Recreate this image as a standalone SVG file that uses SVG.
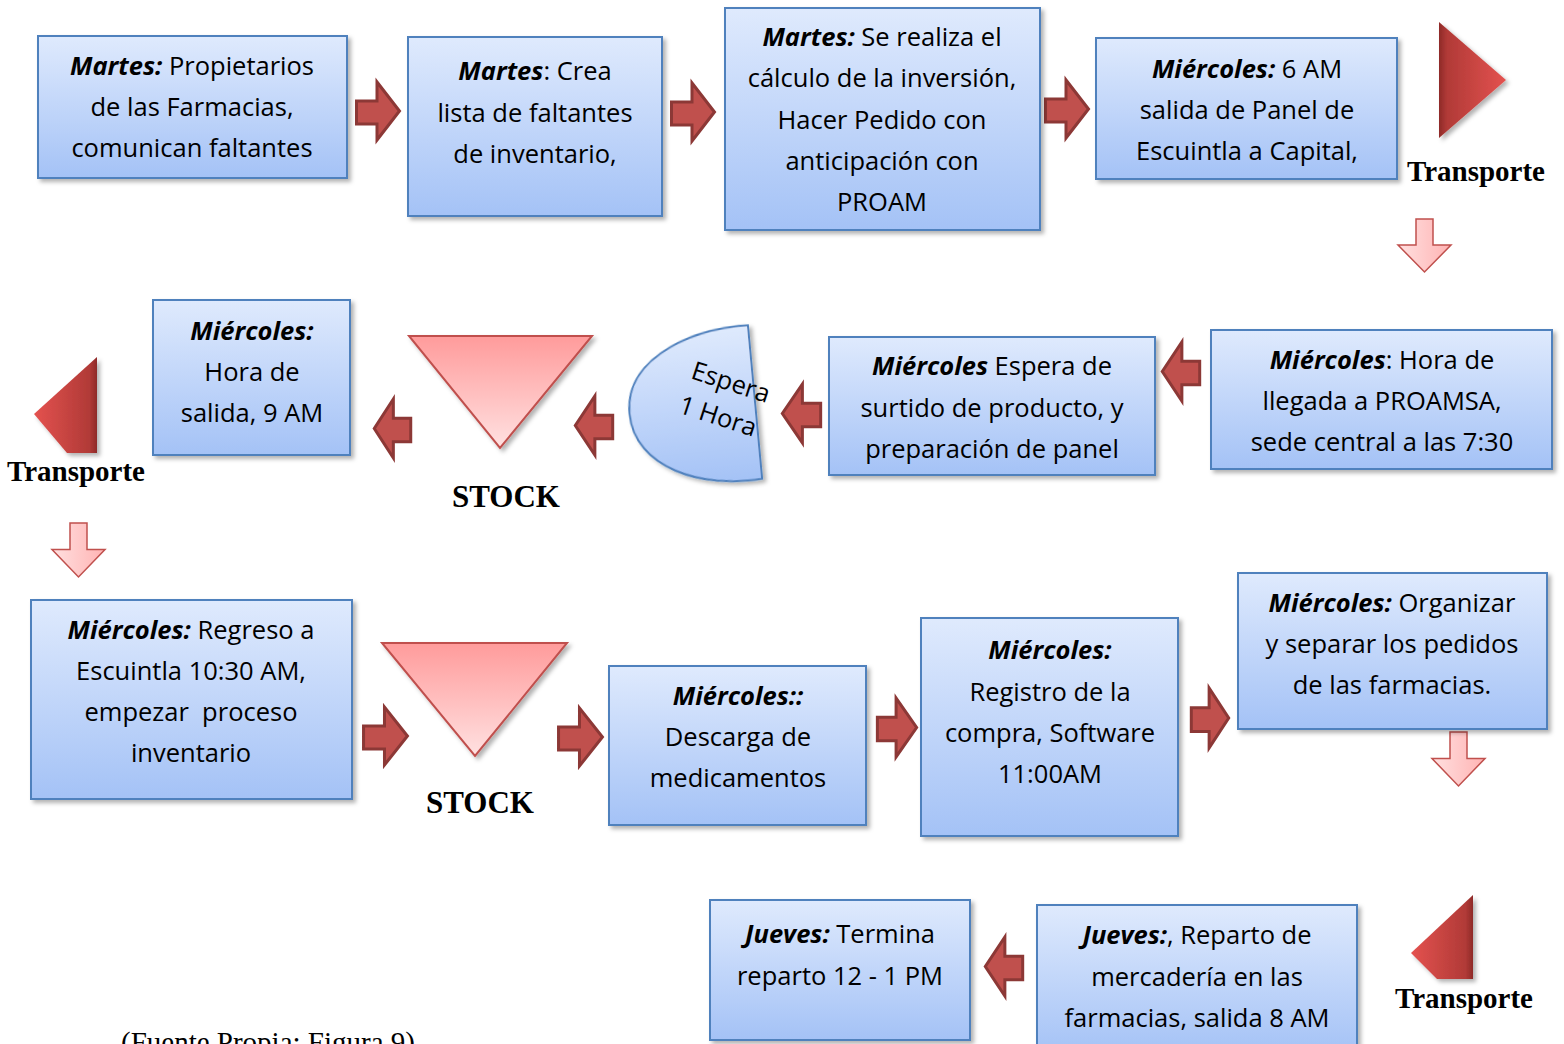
<svg xmlns="http://www.w3.org/2000/svg" xmlns:xlink="http://www.w3.org/1999/xlink" width="1564" height="1044" viewBox="0 0 1564 1044">
  <defs>
    <linearGradient id="boxFill" x1="0" y1="0" x2="0" y2="1">
      <stop offset="0" stop-color="#dfeafd"/>
      <stop offset="1" stop-color="#a4c2f6"/>
    </linearGradient>
    <linearGradient id="stockFill" x1="0" y1="0" x2="0" y2="1">
      <stop offset="0" stop-color="#ff9b9b"/>
      <stop offset="1" stop-color="#ffe1e1"/>
    </linearGradient>
    <linearGradient id="downFill" x1="0" y1="0" x2="1" y2="0">
      <stop offset="0" stop-color="#ffe0e0"/>
      <stop offset="1" stop-color="#ffb3b3"/>
    </linearGradient>
    <linearGradient id="transRight" x1="0" y1="0" x2="1" y2="0">
      <stop offset="0" stop-color="#8e2a28"/>
      <stop offset="0.12" stop-color="#b13a37"/>
      <stop offset="1" stop-color="#e4524f"/>
    </linearGradient>
    <linearGradient id="transLeft" x1="1" y1="0" x2="0" y2="0">
      <stop offset="0" stop-color="#8e2a28"/>
      <stop offset="0.12" stop-color="#b13a37"/>
      <stop offset="1" stop-color="#e4524f"/>
    </linearGradient>
    <filter id="shadow" x="-10%" y="-10%" width="125%" height="125%">
      <feDropShadow dx="3" dy="3" stdDeviation="2" flood-color="#000" flood-opacity="0.3"/>
    </filter>
    <!-- block arrow pointing right -->
    <symbol id="arrowR" viewBox="0 0 46 62" preserveAspectRatio="none" overflow="visible">
      <path d="M1.5,21 H22 V2 L44.5,31 L22,60 V44 H1.5 Z" fill="#c0504d" stroke="#8c3836" stroke-width="3" stroke-linejoin="miter" vector-effect="non-scaling-stroke"/>
    </symbol>
    <!-- block arrow pointing left -->
    <symbol id="arrowL" viewBox="0 0 46 62" preserveAspectRatio="none" overflow="visible">
      <path d="M44.5,21 H24 V2 L1.5,31 L24,60 V44 H44.5 Z" fill="#c0504d" stroke="#8c3836" stroke-width="3" stroke-linejoin="miter" vector-effect="non-scaling-stroke"/>
    </symbol>
    <!-- light down arrow -->
    <symbol id="arrowD" viewBox="0 0 55 55" preserveAspectRatio="none" overflow="visible">
      <path d="M19,1 H36 V27 H54 L27.5,54 L1,27 H19 Z" fill="url(#downFill)" stroke="#c0504d" stroke-width="1.5"/>
    </symbol>
    <style>
      .box { fill: url(#boxFill); stroke: #4f81bd; stroke-width: 2; filter: url(#shadow); }
      .txt { font-family: "Open Sans", "Noto Sans", sans-serif; font-size: 25.5px; fill: #000; text-anchor: middle; }
      .bi { font-weight: bold; font-style: italic; }
      .lbl { font-family: "Liberation Serif", "Times New Roman", serif; font-weight: bold; fill: #000; text-anchor: middle; }
      .stock { fill: url(#stockFill); stroke: #c0504d; stroke-width: 2; filter: url(#shadow); }
    </style>
  </defs>

  <rect width="1564" height="1044" fill="#fff"/>

  <!-- connectors -->
  <g id="connectors">
    <use href="#arrowR" x="355" y="80" width="46" height="62"/>
    <use href="#arrowR" x="670" y="81" width="46" height="62"/>
    <use href="#arrowR" x="1044" y="78" width="46" height="62"/>
    <use href="#arrowD" x="1397" y="218" width="55" height="55"/>
    <use href="#arrowL" x="1161" y="340" width="40" height="63"/>
    <use href="#arrowL" x="781" y="382" width="41" height="63"/>
    <use href="#arrowL" x="574" y="394" width="40" height="63"/>
    <use href="#arrowL" x="373" y="397" width="39" height="63"/>
    <use href="#arrowD" x="51" y="522" width="55" height="56"/>
    <use href="#arrowR" x="362" y="705" width="47" height="62"/>
    <use href="#arrowR" x="557" y="706" width="47" height="62"/>
    <use href="#arrowR" x="876" y="696" width="42" height="63"/>
    <use href="#arrowR" x="1190" y="686" width="40" height="64"/>
    <use href="#arrowD" x="1431" y="731" width="55" height="56"/>
    <use href="#arrowL" x="984" y="935" width="40" height="63"/>
  </g>

  <!-- row 1 -->
  <g id="n1">
    <rect class="box" x="38" y="36" width="309" height="142"/>
    <text class="txt" x="192" y="75"><tspan class="bi">Martes:</tspan> Propietarios</text>
    <text class="txt" x="192" y="116">de las Farmacias,</text>
    <text class="txt" x="192" y="157">comunican faltantes</text>
  </g>
  <g id="n2">
    <rect class="box" x="408" y="37" width="254" height="179"/>
    <text class="txt" x="535" y="80"><tspan class="bi">Martes</tspan>: Crea</text>
    <text class="txt" x="535" y="122">lista de faltantes</text>
    <text class="txt" x="535" y="163">de inventario,</text>
  </g>
  <g id="n3">
    <rect class="box" x="725" y="8" width="315" height="222"/>
    <text class="txt" x="882" y="46"><tspan class="bi">Martes:</tspan> Se realiza el</text>
    <text class="txt" x="882" y="87">cálculo de la inversión,</text>
    <text class="txt" x="882" y="129">Hacer Pedido con</text>
    <text class="txt" x="882" y="170">anticipación con</text>
    <text class="txt" x="882" y="211">PROAM</text>
  </g>
  <g id="n4">
    <rect class="box" x="1096" y="38" width="301" height="141"/>
    <text class="txt" x="1247" y="78"><tspan class="bi">Miércoles:</tspan> 6 AM</text>
    <text class="txt" x="1247" y="119">salida de Panel de</text>
    <text class="txt" x="1247" y="160">Escuintla a Capital,</text>
  </g>
  <g id="t1">
    <polygon points="1439,22 1506,80 1439,138" fill="url(#transRight)" filter="url(#shadow)"/>
    <text class="lbl" x="1476" y="181" font-size="29">Transporte</text>
  </g>

  <!-- row 2 -->
  <g id="n5">
    <rect class="box" x="1211" y="330" width="341" height="139"/>
    <text class="txt" x="1382" y="369"><tspan class="bi">Miércoles</tspan>: Hora de</text>
    <text class="txt" x="1382" y="410">llegada a PROAMSA,</text>
    <text class="txt" x="1382" y="451">sede central a las 7:30</text>
  </g>
  <g id="n6">
    <rect class="box" x="829" y="337" width="326" height="138"/>
    <text class="txt" x="992" y="375"><tspan class="bi">Miércoles</tspan> Espera de</text>
    <text class="txt" x="992" y="417">surtido de producto, y</text>
    <text class="txt" x="992" y="458">preparación de panel</text>
  </g>
  <g id="delay">
    <path d="M0,-77 C-45,-80 -126,-60 -126,0 C-126,55 -60,82 0,77 Z" transform="translate(755,402) rotate(-5.3)" fill="url(#boxFill)" stroke="#4f81bd" stroke-width="2" filter="url(#shadow)"/>
    <text class="txt" x="731" y="391" transform="rotate(18 731 382)">Espera</text>
    <text class="txt" x="718" y="425" transform="rotate(18 718 416)">1 Hora</text>
  </g>
  <g id="s1">
    <polygon class="stock" points="409,336 592,336 500,448"/>
    <text class="lbl" x="506" y="507" font-size="31">STOCK</text>
  </g>
  <g id="n7">
    <rect class="box" x="153" y="300" width="197" height="155"/>
    <text class="txt" x="252" y="340"><tspan class="bi">Miércoles:</tspan></text>
    <text class="txt" x="252" y="381">Hora de</text>
    <text class="txt" x="252" y="422">salida, 9 AM</text>
  </g>
  <g id="t2">
    <polygon points="97,357 34,414 67,453 97,453" fill="url(#transLeft)" filter="url(#shadow)"/>
    <text class="lbl" x="76" y="481" font-size="29">Transporte</text>
  </g>

  <!-- row 3 -->
  <g id="n8">
    <rect class="box" x="31" y="600" width="321" height="199"/>
    <text class="txt" x="191" y="639"><tspan class="bi">Miércoles:</tspan> Regreso a</text>
    <text class="txt" x="191" y="680">Escuintla 10:30 AM,</text>
    <text class="txt" x="191" y="721" xml:space="preserve">empezar  proceso</text>
    <text class="txt" x="191" y="762">inventario</text>
  </g>
  <g id="s2">
    <polygon class="stock" points="382,643 567,643 475,756"/>
    <text class="lbl" x="480" y="813" font-size="31">STOCK</text>
  </g>
  <g id="n9">
    <rect class="box" x="609" y="666" width="257" height="159"/>
    <text class="txt" x="738" y="705"><tspan class="bi">Miércoles::</tspan></text>
    <text class="txt" x="738" y="746">Descarga de</text>
    <text class="txt" x="738" y="787">medicamentos</text>
  </g>
  <g id="n10">
    <rect class="box" x="921" y="618" width="257" height="218"/>
    <text class="txt" x="1050" y="659"><tspan class="bi">Miércoles:</tspan></text>
    <text class="txt" x="1050" y="701">Registro de la</text>
    <text class="txt" x="1050" y="742">compra, Software</text>
    <text class="txt" x="1050" y="783">11:00AM</text>
  </g>
  <g id="n11">
    <rect class="box" x="1238" y="573" width="309" height="156"/>
    <text class="txt" x="1392" y="612"><tspan class="bi">Miércoles:</tspan> Organizar</text>
    <text class="txt" x="1392" y="653">y separar los pedidos</text>
    <text class="txt" x="1392" y="694">de las farmacias.</text>
  </g>

  <!-- row 4 -->
  <g id="t3">
    <polygon points="1473,895 1411,953 1437,979 1473,979" fill="url(#transLeft)" filter="url(#shadow)"/>
    <text class="lbl" x="1464" y="1008" font-size="29">Transporte</text>
  </g>
  <g id="n12">
    <rect class="box" x="1037" y="905" width="320" height="150"/>
    <text class="txt" x="1197" y="944"><tspan class="bi">Jueves:</tspan>, Reparto de</text>
    <text class="txt" x="1197" y="986">mercadería en las</text>
    <text class="txt" x="1197" y="1027">farmacias, salida 8 AM</text>
  </g>
  <g id="n13">
    <rect class="box" x="710" y="900" width="260" height="140"/>
    <text class="txt" x="840" y="943"><tspan class="bi">Jueves:</tspan> Termina</text>
    <text class="txt" x="840" y="985">reparto 12 - 1 PM</text>
  </g>

  <text x="121" y="1052" font-family="Liberation Serif, Times New Roman, serif" font-size="29" fill="#000">(Fuente Propia: Figura 9)</text>
</svg>
